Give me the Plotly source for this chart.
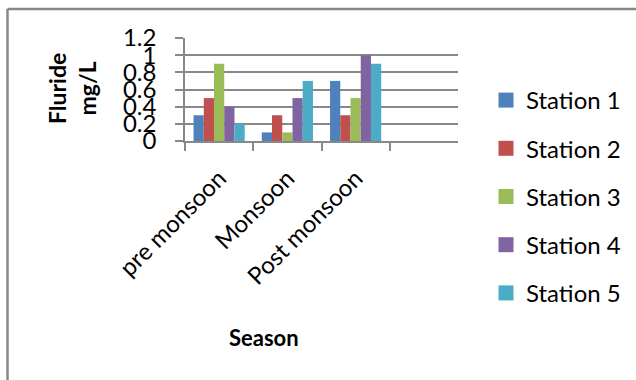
import plotly.graph_objects as go

# Fluoride concentration per season for five sampling stations
seasons = ["pre monsoon", "Monsoon", "Post monsoon"]
station_names = ["Station 1", "Station 2", "Station 3", "Station 4", "Station 5"]
station_1 = [0.3, 0.1, 0.7]
station_2 = [0.5, 0.3, 0.3]
station_3 = [0.9, 0.1, 0.5]
station_4 = [0.4, 0.5, 1.0]
station_5 = [0.2, 0.7, 0.9]
y_ticks = [0, 0.2, 0.4, 0.6, 0.8, 1, 1.2]
y_tick_labels = ["0", "0.2", "0.4", "0.6", "0.8", "1", "1.2"]

series = [station_1, station_2, station_3, station_4, station_5]
colors = ["#4F81BD", "#C0504D", "#9BBB59", "#8064A2", "#4BACC6"]

FONT = "Lato"
GRID = "#888888"

W, H = 636, 380
L, R, T, B = 185, 178, 38, 239
pw, ph = W - L - R, H - T - B


def px_x(px):
    return (px - L) / pw


def px_y(py):
    return (H - B - py) / ph


fig = go.Figure()
for name, vals, col in zip(station_names, series, colors):
    fig.add_trace(go.Bar(
        name=name, x=seasons, y=vals,
        marker=dict(color=col, line=dict(width=0)),
        legendgroup=name, showlegend=False,
    ))
    # square legend key, larger than the default bar swatch
    fig.add_trace(go.Scatter(
        name=name, x=[None], y=[None], mode="markers",
        marker=dict(symbol="square", size=15, color=col),
        legendgroup=name, showlegend=True, hoverinfo="skip",
    ))

fig.update_layout(
    width=W, height=H,
    margin=dict(l=L, r=R, t=T, b=B, autoexpand=False),
    paper_bgcolor="white", plot_bgcolor="white",
    barmode="group", bargap=0.25, bargroupgap=0,
    font=dict(family=FONT, color="black"),
    showlegend=True,
    legend=dict(
        x=px_x(486), y=px_y(78), xanchor="left", yanchor="top",
        font=dict(size=24, family=FONT, color="black"),
        traceorder="grouped", tracegroupgap=14,
        bgcolor="rgba(0,0,0,0)", maxheight=400,
    ),
    xaxis=dict(
        type="category",
        categoryorder="array", categoryarray=seasons,
        range=[-0.5, 3.5],
        tickson="boundaries", ticks="outside", ticklen=8, tickcolor=GRID, tickwidth=1.5,
        showline=True, linecolor=GRID, linewidth=1.5,
        showgrid=False, tickangle=-45,
        tickfont=dict(size=24, family=FONT),
        ticklabelstandoff=12,
        fixedrange=True,
    ),
    yaxis=dict(
        range=[0, 1.2], tickvals=y_ticks, ticktext=y_tick_labels,
        ticks="outside", ticklen=8, tickcolor=GRID, tickwidth=1.5,
        showline=True, linecolor=GRID, linewidth=1.5,
        showgrid=True, gridcolor=GRID, gridwidth=1.5,
        zeroline=False,
        tickfont=dict(size=24, family=FONT),
        ticklabelstandoff=14,
        fixedrange=True,
    ),
    annotations=[
        dict(text="<b>Fluride<br>mg/L</b>", textangle=-90,
             x=px_x(72), y=px_y(89), xref="paper", yref="paper",
             xanchor="center", yanchor="middle", showarrow=False,
             font=dict(size=23, family=FONT)),
        dict(text="<b>Season</b>",
             x=px_x(264), y=px_y(337), xref="paper", yref="paper",
             xanchor="center", yanchor="middle", showarrow=False,
             font=dict(size=22, family=FONT)),
    ],
    shapes=[
        dict(type="line", xref="paper", yref="paper",
             x0=px_x(7.5), x1=px_x(W + 5), y0=px_y(9), y1=px_y(9),
             line=dict(color="#878787", width=2.5)),
        dict(type="line", xref="paper", yref="paper",
             x0=px_x(7.5), x1=px_x(7.5), y0=px_y(9), y1=px_y(H + 5),
             line=dict(color="#878787", width=2.5)),
    ],
)

fig.write_html("out.html")
